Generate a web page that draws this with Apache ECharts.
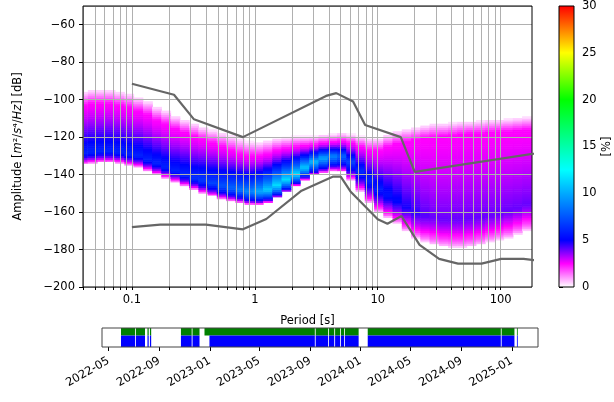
<!DOCTYPE html>
<html>
<head>
<meta charset="utf-8">
<script src="https://cdn.jsdelivr.net/npm/echarts@6/dist/echarts.min.js"></script>
<style>
html, body {margin: 0; padding: 0; background: #fff;}
#main {width: 614px; height: 402px;}
</style>
</head>
<body>
<div id="main"></div>
<script>
// period bins (1/4 octave), and density profile per bin
var periods = [0.040,0.048,0.057,0.067,0.080,0.095,0.113,0.135,0.160,0.190,0.226,0.269,0.320,0.381,0.453,0.538,0.640,0.761,0.905,1.076,1.280,1.522,1.810,2.153,2.560,3.044,3.620,4.305,5.120,6.089,7.241,8.611,10.24,12.18,14.48,17.22,20.48,24.35,28.96,34.44,40.96,48.71,57.93,68.89,81.92,97.42,115.9,137.8,163.8];
var topDb = [-95,-94,-94,-94,-95,-96,-98,-100,-103,-105,-108,-110,-112,-114,-115.5,-117,-118.5,-120,-121.5,-122,-121,-120,-119.5,-119,-119,-119,-118.5,-118,-117.5,-118,-119,-120,-120,-118,-116,-115,-114,-113,-112,-112,-111.5,-111,-111,-110.5,-110,-110,-109.5,-109,-108.5];
var magDb = [-103,-102,-102,-102,-103,-104,-106,-108,-111,-113,-115.5,-117.5,-119.5,-121,-123,-125,-127,-129,-130,-130,-129,-127,-126,-125,-124.5,-124,-123,-122.5,-122,-123,-125,-127,-127,-125,-123.5,-122.5,-121.5,-120.5,-120,-119.5,-119,-118.5,-118,-118,-117.5,-117,-117,-116.5,-116];
var modeDb = [-128.5,-128,-127.5,-127.5,-128,-129,-130,-132,-134,-136,-138,-140,-142,-143,-144.5,-146,-147,-148,-149,-149,-148,-145.5,-142.5,-139.5,-136,-133,-131,-130,-130,-133,-138,-143,-147.5,-151,-154,-157.5,-160.5,-162,-163,-164,-164,-164,-163.5,-163,-162,-161,-159.5,-158,-156];
var bottomDb = [-134.5,-134,-133.5,-133.5,-134,-135,-136,-138,-140,-142,-144,-146,-148,-150,-151.5,-153,-154,-155,-156,-156,-155,-152.5,-149.5,-146,-143,-140.5,-139,-138,-138.5,-143,-149,-155,-160,-163,-166,-170,-174,-176,-177.5,-178.5,-179,-179,-178.5,-177.5,-176,-175,-174,-172,-170];
var peakPct = [6,6,6,6,6,6,6,6,6,6,6,6.2,6.4,6.7,7,7.5,8,8.5,9,10,11,11.5,11.5,11.5,11,10.5,10,9,8,7,6.3,6,5.8,5.5,5.2,4.8,4.5,4.2,4,4,4,4,4,4,4,4,4,4,4];

// Peterson noise models
var nhnmPeriod = [0.1, 0.22, 0.32, 0.8, 3.8, 4.6, 6.3, 7.9, 15.4, 20, 354.8];
var nhnmDb = [-91.5, -97.4, -110.5, -120.0, -98.0, -96.5, -101.0, -113.5, -120.0, -138.5, -126.0];
var nlnmPeriod = [0.1, 0.17, 0.4, 0.8, 1.24, 2.4, 4.3, 5, 6, 10, 12, 15.6, 21.9, 31.6, 45, 70, 101, 154, 328];
var nlnmDb = [-168, -166.7, -166.7, -169.2, -163.7, -148.6, -141.1, -141.1, -149.0, -163.8, -166.2, -162.1, -177.5, -185.0, -187.5, -187.5, -185.0, -185.0, -187.5];

var periodTicks = [0.1, 1, 10, 100];
var periodMinor = [0.04,0.05,0.06,0.07,0.08,0.09,0.2,0.3,0.4,0.5,0.6,0.7,0.8,0.9,2,3,4,5,6,7,8,9,20,30,40,50,60,70,80,90];

// colour map
var cmapStops = [0, 2.5, 5, 12.5, 20, 25, 30];
var cmapColors = ['#ffffff', '#ff00ff', '#0000ff', '#00ffff', '#00ff00', '#ffff00', '#ff0000'];

// time coverage
var dataSegs = [['2022-05-31','2022-07-04'],['2022-07-06','2022-07-28'],['2022-08-03','2022-08-06'],['2022-08-09','2022-08-12'],['2022-10-23','2022-11-18'],['2022-11-20','2022-12-07'],['2022-12-19','2023-09-12'],['2023-09-14','2023-10-14'],['2023-10-16','2023-10-29'],['2023-10-31','2023-11-12'],['2023-11-14','2023-11-22'],['2023-11-24','2023-12-27'],['2024-01-18','2024-12-05'],['2024-12-07','2025-01-07'],['2025-01-13','2025-01-15']];
var usedSegs = [['2022-05-31','2022-07-04'],['2022-07-06','2022-07-28'],['2022-08-03','2022-08-06'],['2022-08-09','2022-08-12'],['2022-10-23','2022-11-18'],['2022-11-20','2022-12-07'],['2022-12-31','2023-09-12'],['2023-09-14','2023-10-14'],['2023-10-16','2023-10-29'],['2023-10-31','2023-11-12'],['2023-11-14','2023-11-22'],['2023-11-24','2023-12-27'],['2024-01-18','2024-12-05'],['2024-12-07','2025-01-07'],['2025-01-13','2025-01-15']];
var dateTicks = ['2022-05-01','2022-09-01','2023-01-01','2023-05-01','2023-09-01','2024-01-01','2024-05-01','2024-09-01','2025-01-01'];
var dateMin = '2022-04-15', dateMax = '2025-03-05';

function ms(s) { return new Date(s + 'T00:00:00Z').getTime(); }

function hexRgb(h) {
    return [parseInt(h.substr(1, 2), 16), parseInt(h.substr(3, 2), 16), parseInt(h.substr(5, 2), 16)];
}
function cmap(v) {
    if (v >= cmapStops[cmapStops.length - 1]) return cmapColors[cmapColors.length - 1];
    for (var k = 0; k < cmapStops.length - 1; k++) {
        if (v <= cmapStops[k + 1]) {
            var t = (v - cmapStops[k]) / (cmapStops[k + 1] - cmapStops[k]);
            var a = hexRgb(cmapColors[k]), b = hexRgb(cmapColors[k + 1]);
            return 'rgb(' + Math.round(a[0] + (b[0] - a[0]) * t) + ',' + Math.round(a[1] + (b[1] - a[1]) * t) + ',' + Math.round(a[2] + (b[2] - a[2]) * t) + ')';
        }
    }
}

// value of one 1 dB bin, from the column's edges, mode and 2.5 % level
function density(c, d) {
    var b = bottomDb[c], m = modeDb[c], g = magDb[c], t = topDb[c], pk = peakPct[c];
    if (d < b || d > t) return 0;
    if (d <= m) return pk * Math.pow((d - b) / (m - b), 0.6);
    if (d <= g) return 2.5 + (pk - 2.5) * Math.pow(1 - (d - m) / (g - m), 1.4);
    return 2.5 * (1 - (d - g) / (t - g));
}

var cells = [];
for (var c = 0; c < periods.length; c++) {
    for (var d = Math.floor(bottomDb[c]); d < Math.ceil(topDb[c]); d++) {
        var v = density(c, d + 0.5);
        if (v > 0.2) cells.push([periods[c], d, v]);
    }
}

var binFactor = Math.pow(2, 1 / 8);
function renderCell(params, api) {
    var p = api.value(0), d = api.value(1), v = api.value(2);
    var a = api.coord([p / binFactor, d]);
    var b = api.coord([p * binFactor, d + 1]);
    var cs = params.coordSys;
    var rect = echarts.graphic.clipRectByRect(
        {x: a[0] - 0.3, y: b[1] - 0.3, width: b[0] - a[0] + 0.6, height: a[1] - b[1] + 0.6},
        {x: cs.x, y: cs.y, width: cs.width, height: cs.height});
    if (!rect) return;
    return {type: 'rect', shape: rect, style: {fill: cmap(v)}};
}

function renderBar(color, y0, y1) {
    return function (params, api) {
        var a = api.coord([api.value(0), y0]);
        var b = api.coord([api.value(1), y1]);
        return {type: 'rect', shape: {x: a[0], y: b[1], width: Math.max(b[0] - a[0], 0.8), height: a[1] - b[1]}, style: {fill: color}};
    };
}

var font = 'DejaVu Sans';
var fs = 11.5;
var gridStops = [];
for (var k = 0; k < cmapStops.length; k++) gridStops.push({offset: cmapStops[k] / 30, color: cmapColors[k]});

var nhnm = nhnmPeriod.map(function (p, i) { return [p, nhnmDb[i]]; });
var nlnm = nlnmPeriod.map(function (p, i) { return [p, nlnmDb[i]]; });

var chart = echarts.init(document.getElementById('main'));
var option = {
    animation: false,
    textStyle: {fontFamily: font, color: '#000'},
    grid: [
        {left: 83, top: 6, width: 449, height: 281, show: true, borderColor: '#000', borderWidth: 1, backgroundColor: 'transparent', z: 5},
        {left: 559, top: 6, width: 15, height: 281, show: true, borderColor: '#000', borderWidth: 1, backgroundColor: 'transparent', z: 5},
        {left: 102, top: 328, width: 436, height: 19, show: true, borderColor: '#444', borderWidth: 1, backgroundColor: 'transparent', z: 5}
    ],
    xAxis: [
        {
            type: 'log', logBase: 10, gridIndex: 0, min: 0.04, max: 180, z: 3,
            name: 'Period [s]', nameLocation: 'middle', nameGap: 28,
            nameTextStyle: {fontFamily: font, fontSize: fs, color: '#000'},
            axisLine: {show: false},
            axisTick: {show: true, length: 3, customValues: periodTicks.concat(periodMinor), lineStyle: {color: '#000'}},
            axisLabel: {customValues: periodTicks, margin: 7, fontFamily: font, fontSize: fs, color: '#000',
                formatter: function (v) { return String(+(+v).toPrecision(3)); }},
            splitLine: {show: true, lineStyle: {color: '#b0b0b0', width: 1}},
            minorTick: {show: false}, minorSplitLine: {show: false}
        },
        {type: 'value', gridIndex: 1, min: 0, max: 1, show: false},
        {
            type: 'value', gridIndex: 2, min: ms(dateMin), max: ms(dateMax),
            axisLine: {show: false},
            axisTick: {show: true, length: 4, customValues: dateTicks.map(ms), lineStyle: {color: '#000'}},
            axisLabel: {customValues: dateTicks.map(ms), rotate: 30, margin: 13, fontFamily: font, fontSize: fs, color: '#000',
                formatter: function (v) {
                    var dt = new Date(+v);
                    var mo = dt.getUTCMonth() + 1;
                    return dt.getUTCFullYear() + '-' + (mo < 10 ? '0' : '') + mo;
                }},
            splitLine: {show: false}
        }
    ],
    yAxis: [
        {
            type: 'value', gridIndex: 0, min: -200, max: -50, interval: 20, z: 3,
            name: 'Amplitude [{i|m}²/{i|s}⁴/{i|Hz}] [dB]', nameLocation: 'middle', nameRotate: 90, nameGap: 59,
            nameTextStyle: {fontFamily: font, fontSize: fs, color: '#000',
                rich: {i: {fontStyle: 'italic', fontFamily: font, fontSize: fs, color: '#000'}}},
            axisLine: {show: false},
            axisTick: {show: true, length: 4, lineStyle: {color: '#000'}},
            axisLabel: {showMaxLabel: false, margin: 8, fontFamily: font, fontSize: fs, color: '#000',
                formatter: function (v) { return String(v).replace('-', '\u2212'); }},
            splitLine: {show: true, lineStyle: {color: '#b0b0b0', width: 1}}
        },
        {
            type: 'value', gridIndex: 1, position: 'right', min: 0, max: 30, interval: 5,
            name: '[%]', nameLocation: 'middle', nameRotate: 90, nameGap: 21,
            nameTextStyle: {fontFamily: font, fontSize: fs, color: '#000'},
            axisLine: {show: false},
            axisTick: {show: true, length: 4, lineStyle: {color: '#000'}},
            axisLabel: {margin: 8, fontFamily: font, fontSize: fs, color: '#000'},
            splitLine: {show: false}
        },
        {type: 'value', gridIndex: 2, min: 0, max: 1, show: false}
    ],
    series: [
        {
            type: 'custom', name: 'ppsd', xAxisIndex: 0, yAxisIndex: 0, z: 1,
            progressive: 0, data: cells, renderItem: renderCell, silent: true,
            encode: {x: 0, y: 1}
        },
        {
            type: 'line', name: 'NHNM', xAxisIndex: 0, yAxisIndex: 0, data: nhnm, z: 6,
            showSymbol: false, clip: true, silent: true, lineStyle: {color: '#666666', width: 2.2}
        },
        {
            type: 'line', name: 'NLNM', xAxisIndex: 0, yAxisIndex: 0, data: nlnm, z: 6,
            showSymbol: false, clip: true, silent: true, lineStyle: {color: '#666666', width: 2.2}
        },
        {
            type: 'custom', name: 'colorbar', xAxisIndex: 1, yAxisIndex: 1, data: [[0, 1]], silent: true,
            renderItem: function (params, api) {
                var a = api.coord([0, 0]), b = api.coord([1, 30]);
                return {type: 'rect', shape: {x: a[0], y: b[1], width: b[0] - a[0], height: a[1] - b[1]},
                    style: {fill: new echarts.graphic.LinearGradient(0, 1, 0, 0, gridStops)}};
            }
        },
        {
            type: 'custom', name: 'data', xAxisIndex: 2, yAxisIndex: 2, silent: true,
            data: dataSegs.map(function (s) { return [ms(s[0]), ms(s[1])]; }),
            encode: {x: [0, 1]}, renderItem: renderBar('#008000', 0.6, 1)
        },
        {
            type: 'custom', name: 'used', xAxisIndex: 2, yAxisIndex: 2, silent: true,
            data: usedSegs.map(function (s) { return [ms(s[0]), ms(s[1])]; }),
            encode: {x: [0, 1]}, renderItem: renderBar('#0000ff', 0, 0.6)
        }
    ]
};
chart.setOption(option);
</script>
</body>
</html>
